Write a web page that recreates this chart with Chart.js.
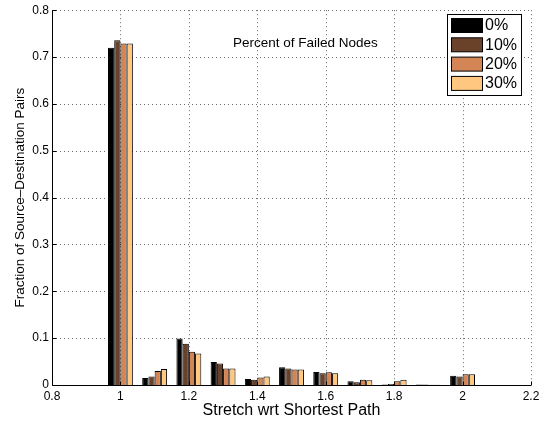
<!DOCTYPE html>
<html>
<head>
<meta charset="utf-8">
<script src="https://cdn.jsdelivr.net/npm/chart.js@4/dist/chart.umd.min.js"></script>
<style>
  html, body { margin: 0; padding: 0; background: #fff; }
  #wrap { position: relative; width: 546px; height: 422px; }
</style>
</head>
<body>
<div id="wrap"><canvas id="c" width="546" height="422"></canvas></div>
<script>
// Stretch bins (path length relative to the shortest path)
const stretch = [1.0, 1.1, 1.2, 1.3, 1.4, 1.5, 1.6, 1.7, 1.8, 1.9, 2.0];

// Fraction of source-destination pairs per bin, one array per failure level
const failed0  = [0.720, 0.015, 0.099, 0.049, 0.013, 0.038, 0.028, 0.008, 0.001, 0.001, 0.020];
const failed10 = [0.736, 0.018, 0.088, 0.046, 0.011, 0.035, 0.025, 0.006, 0.002, 0.001, 0.018];
const failed20 = [0.729, 0.030, 0.071, 0.035, 0.016, 0.033, 0.027, 0.011, 0.008, 0.0005, 0.023];
const failed30 = [0.729, 0.034, 0.067, 0.035, 0.018, 0.033, 0.025, 0.010, 0.011, 0.0005, 0.023];

const seriesLabels = ['0%', '10%', '20%', '30%'];
const seriesColors = ['#000000', '#6a422a', '#d48555', '#ffc77f'];

const xTicks = [0.8, 1, 1.2, 1.4, 1.6, 1.8, 2, 2.2];
const yTicks = [0, 0.1, 0.2, 0.3, 0.4, 0.5, 0.6, 0.7, 0.8];

const annotationText = 'Percent of Failed Nodes';
const FONT = '"Liberation Sans", Arial, Helvetica, sans-serif';

const fmt = v => String(Number(v.toFixed(1)));

const seriesValues = [failed0, failed10, failed20, failed30];
const datasets = seriesValues.map((vals, i) => ({
  label: seriesLabels[i],
  data: stretch.map((s, k) => ({ x: s, y: vals[k] })),
  backgroundColor: seriesColors[i],
  borderColor: '#000',
  borderWidth: 1,
  borderSkipped: 'start',
  categoryPercentage: 4 / 5.5,
  barPercentage: 1.0
}));

// Dotted grid behind the bars, solid axes and legend on top
const plotDecor = {
  id: 'plotDecor',
  beforeDatasetsDraw(chart) {
    const { ctx, chartArea: a, scales: { x, y } } = chart;
    ctx.save();
    ctx.strokeStyle = '#6a6a6a';
    ctx.lineWidth = 1;
    ctx.setLineDash([1, 3]);
    yTicks.forEach(v => {
      if (v === 0) return;
      const py = Math.round(y.getPixelForValue(v)) + 0.5;
      ctx.beginPath(); ctx.moveTo(a.left, py); ctx.lineTo(a.right, py); ctx.stroke();
    });
    xTicks.forEach(v => {
      if (v === xTicks[0]) return;
      const px = Math.round(x.getPixelForValue(v)) + 0.5;
      ctx.beginPath(); ctx.moveTo(px, a.top); ctx.lineTo(px, a.bottom); ctx.stroke();
    });
    ctx.restore();
  },
  afterDatasetsDraw(chart) {
    const { ctx, chartArea: a, scales: { x, y } } = chart;
    const L = Math.round(a.left) + 0.5, B = Math.round(a.bottom) + 0.5;
    ctx.save();
    ctx.strokeStyle = '#000';
    ctx.lineWidth = 1;
    ctx.beginPath();
    ctx.moveTo(L, a.top); ctx.lineTo(L, B); ctx.lineTo(a.right, B);
    ctx.stroke();
    ctx.beginPath();
    yTicks.forEach(v => {
      const py = Math.round(y.getPixelForValue(v)) + 0.5;
      ctx.moveTo(L, py); ctx.lineTo(L + 4, py);
    });
    xTicks.forEach(v => {
      const px = Math.round(x.getPixelForValue(v)) + 0.5;
      ctx.moveTo(px, B); ctx.lineTo(px, B - 4);
    });
    ctx.stroke();
    ctx.restore();
  },
  afterDraw(chart) {
    const { ctx } = chart;
    ctx.save();
    ctx.fillStyle = '#000';
    ctx.font = '13.5px ' + FONT;
    ctx.textBaseline = 'alphabetic';
    ctx.textAlign = 'left';
    ctx.fillText(annotationText, 233, 47);

    const bx = 447.5, by = 14.5, bw = 74, bh = 81;
    ctx.fillStyle = '#fff';
    ctx.fillRect(bx, by, bw, bh);
    ctx.strokeStyle = '#000';
    ctx.lineWidth = 1;
    ctx.strokeRect(bx, by, bw, bh);
    chart.data.datasets.forEach((ds, i) => {
      const sy = 18.5 + i * 19.3;
      ctx.fillStyle = ds.backgroundColor;
      ctx.fillRect(451.5, sy, 31, 14);
      ctx.strokeStyle = '#000';
      ctx.strokeRect(451.5, sy, 31, 14);
      ctx.fillStyle = '#000';
      ctx.font = '16px ' + FONT;
      ctx.textBaseline = 'middle';
      ctx.fillText(ds.label, 485, sy + 7.5);
    });
    ctx.restore();
  }
};

new Chart(document.getElementById('c'), {
  type: 'bar',
  data: { datasets },
  options: {
    responsive: false,
    animation: false,
    devicePixelRatio: 1,
    layout: { padding: { left: 0, right: 15, top: 7, bottom: 0 } },
    plugins: { legend: { display: false }, tooltip: { enabled: false } },
    scales: {
      x: {
        type: 'linear',
        min: 0.8, max: 2.2,
        offset: false,
        grid: { display: false, drawTicks: false },
        border: { display: false },
        afterBuildTicks: s => { s.ticks = xTicks.map(v => ({ value: v })); },
        afterFit: s => { s.height = 37; },
        ticks: { color: '#000', font: { family: FONT, size: 12 }, padding: 4, maxRotation: 0, autoSkip: false,
                 callback: v => fmt(v) },
        title: { display: true, text: 'Stretch wrt Shortest Path', color: '#000',
                 font: { family: FONT, size: 16 }, padding: { top: 0, bottom: 2 } }
      },
      y: {
        min: 0, max: 0.8,
        grid: { display: false, drawTicks: false },
        border: { display: false },
        afterBuildTicks: s => { s.ticks = yTicks.map(v => ({ value: v })); },
        afterFit: s => { s.width = 52; },
        ticks: { color: '#000', font: { family: FONT, size: 12 }, padding: 3, callback: v => fmt(v) },
        title: { display: true, text: 'Fraction of Source\u2013Destination Pairs', color: '#000',
                 font: { family: FONT, size: 13.5 }, padding: { top: 12, bottom: 0 } }
      }
    }
  },
  plugins: [plotDecor]
});
</script>
</body>
</html>
